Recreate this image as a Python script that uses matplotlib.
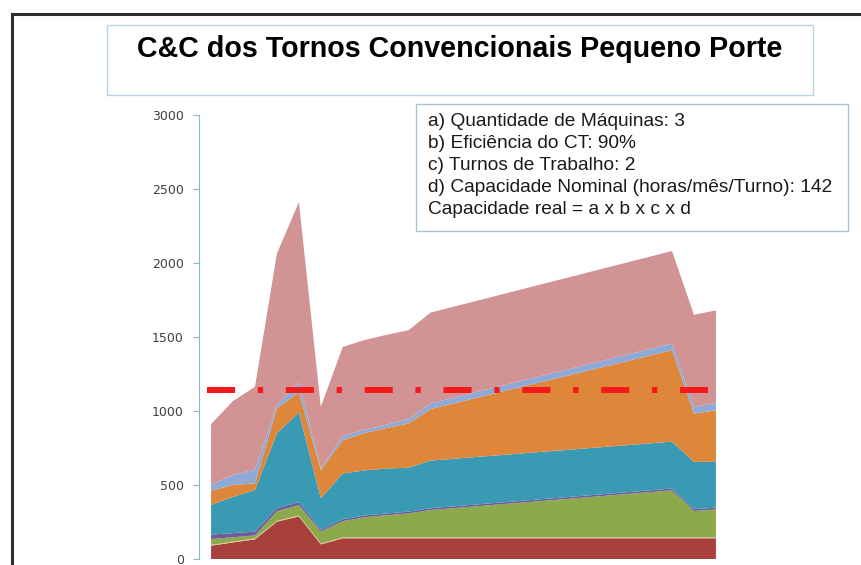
import matplotlib
matplotlib.use("Agg")
import matplotlib.pyplot as plt
from matplotlib.patches import Rectangle
from matplotlib.lines import Line2D

# periodos (posicoes no eixo de datas) e valores de cada parcela empilhada
periodos = [0, 1, 2, 3, 4, 5, 6, 7, 8, 9, 10, 21, 22, 23]
vermelho = [90, 112, 133, 252, 288, 99, 140, 140, 140, 140, 140, 140, 140, 140]
bege = [6, 6, 6, 6, 6, 6, 6, 6, 6, 6, 6, 6, 6, 6]
verde = [39, 29, 20, 65, 70, 80, 110, 136, 150, 162, 185, 318, 178, 189]
roxo = [30, 28, 26, 20, 20, 12, 12, 12, 12, 12, 12, 12, 12, 12]
azul = [200, 245, 281, 506, 607, 213, 310, 305, 303, 297, 322, 317, 320, 310]
laranja = [97, 80, 45, 169, 135, 190, 225, 252, 274, 299, 348, 618, 326, 348]
azul_claro = [40, 68, 94, 22, 70, 12, 29, 22, 23, 29, 38, 45, 45, 50]
rosa = [409, 500, 558, 1024, 1215, 416, 601, 607, 607, 601, 614, 625, 623, 625]
cores = ["#A8413E", "#E9B98C", "#8CA94C", "#6E5C9E", "#3A9AB4",
         "#DE873A", "#8FAAD7", "#D19393"]

capacidade = 1145
titulo = "C&C dos Tornos Convencionais Pequeno Porte"
info = [
    "a) Quantidade de Máquinas: 3",
    "b) Eficiência do CT: 90%",
    "c) Turnos de Trabalho: 2",
    "d) Capacidade Nominal (horas/mês/Turno): 142",
    "Capacidade real = a x b x c x d",
]
y_ticks = [0, 500, 1000, 1500, 2000, 2500, 3000]

W, H = 861, 565
fig = plt.figure(figsize=(W / 100, H / 100), dpi=100)


def fx(px):
    return px / W


def fy(py):
    return 1 - py / H


# moldura do slide
fig.add_artist(Line2D([fx(12), 1], [fy(14), fy(14)], color="#2E2E2E", lw=2.2))
fig.add_artist(Line2D([fx(12), fx(12)], [fy(14), 0], color="#2E2E2E", lw=2.2))

# caixa do titulo
fig.add_artist(Rectangle((fx(107), fy(95)), fx(813) - fx(107), fy(25) - fy(95),
                         transform=fig.transFigure, fill=False,
                         edgecolor="#BCD3E3", lw=1))
fig.text(fx(460), fy(57), titulo, ha="center", va="baseline",
         fontsize=20.6, fontweight="bold", family="Liberation Sans", color="black")

# grafico de area empilhada
ax = fig.add_axes([fx(199), fy(559), fx(728) - fx(199), fy(115) - fy(559)])
ax.stackplot(periodos, vermelho, bege, verde, roxo, azul, laranja,
             azul_claro, rosa, colors=cores, lw=0)
ax.plot([-0.18, 22.8], [capacidade, capacidade], color="#F41A1A", lw=4.3,
        linestyle=(0, (4.7, 3.8, 0.9, 3.8)))
ax.set_xlim(-0.55, 23.55)
ax.set_ylim(0, 3000)
ax.set_yticks(y_ticks)
ax.set_xticks([])
for s in ["top", "right", "bottom"]:
    ax.spines[s].set_visible(False)
ax.spines["left"].set_color("#8DB4CA")
ax.tick_params(axis="y", direction="out", length=4, color="#8DB4CA",
               pad=7, labelsize=9, labelcolor="#404040")
ax.set_facecolor("none")

# caixa de informacoes
fig.add_artist(Rectangle((fx(416), fy(231)), fx(848) - fx(416), fy(104) - fy(231),
                         transform=fig.transFigure, facecolor="white",
                         edgecolor="#A9C3D6", lw=1, zorder=5))
linhas_y = [121.7, 143.3, 165.7, 187.3, 209.3]
for texto, ly in zip(info, linhas_y):
    fig.text(fx(428), fy(ly), texto, ha="left", va="center", fontsize=13.8,
             family="Liberation Sans", color="#1A1A1A", zorder=6)

fig.savefig("out.png", dpi=100, facecolor="white")
